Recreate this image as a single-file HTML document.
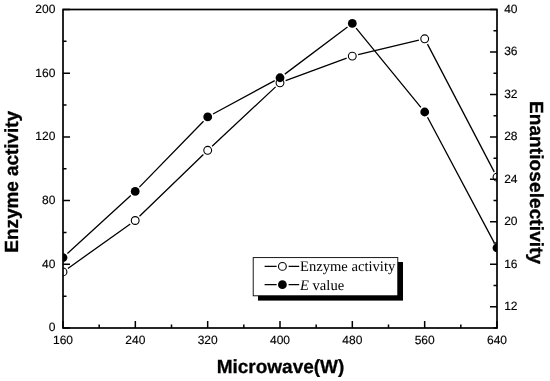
<!DOCTYPE html>
<html><head><meta charset="utf-8"><title>chart</title>
<style>html,body{margin:0;padding:0;background:#fff}svg{display:block;will-change:transform;text-rendering:geometricPrecision}text{font-family:"Liberation Sans",sans-serif;fill:#000}.t{font-size:12px;stroke:#000;stroke-width:.15px}.b{font-size:19px;font-weight:bold;stroke:#000;stroke-width:.3px}.s{font-family:"Liberation Serif",serif;font-size:14.6px}</style>
</head><body>
<svg width="550" height="381" viewBox="0 0 550 381">
<rect width="550" height="381" fill="#fff"/>
<defs><clipPath id="c"><rect x="63.0" y="9.5" width="434.0" height="318.5"/></clipPath></defs>
<g clip-path="url(#c)">
<path d="M67.89 268.42L130.31 223.98M139.51 216.33L203.39 154.47M212.09 146.21L275.61 86.89M285.63 80.72L346.67 58.18M358.14 54.71L418.86 40.19M427.48 44.12L494.22 171.88" stroke="#000" stroke-width="1.3" fill="none"/>
<circle cx="63" cy="271.9" r="3.9" fill="#fff" stroke="#000" stroke-width="1.1"/>
<circle cx="135.2" cy="220.5" r="3.9" fill="#fff" stroke="#000" stroke-width="1.1"/>
<circle cx="207.7" cy="150.3" r="3.9" fill="#fff" stroke="#000" stroke-width="1.1"/>
<circle cx="280" cy="82.8" r="3.9" fill="#fff" stroke="#000" stroke-width="1.1"/>
<circle cx="352.3" cy="56.1" r="3.9" fill="#fff" stroke="#000" stroke-width="1.1"/>
<circle cx="424.7" cy="38.8" r="3.9" fill="#fff" stroke="#000" stroke-width="1.1"/>
<circle cx="497" cy="177.2" r="3.9" fill="#fff" stroke="#000" stroke-width="1.1"/>
<path d="M67.42 253.55L130.78 195.45M139.38 187.10L203.52 121.20M212.98 114.04L274.72 80.61M284.80 74.14L347.50 27.01M356.10 28.05L420.90 107.35M427.52 117.30L494.18 242.60" stroke="#000" stroke-width="1.3" fill="none"/>
<circle cx="63" cy="257.6" r="4.4" fill="#000"/>
<circle cx="135.2" cy="191.4" r="4.4" fill="#000"/>
<circle cx="207.7" cy="116.9" r="4.4" fill="#000"/>
<circle cx="280" cy="77.75" r="4.4" fill="#000"/>
<circle cx="352.3" cy="23.4" r="4.4" fill="#000"/>
<circle cx="424.7" cy="112" r="4.4" fill="#000"/>
<circle cx="497" cy="247.9" r="4.4" fill="#000"/>
</g>
<path d="M63.0 328.00h7M63.0 296.15h3.5M63.0 264.30h7M63.0 232.45h3.5M63.0 200.60h7M63.0 168.75h3.5M63.0 136.90h7M63.0 105.05h3.5M63.0 73.20h7M63.0 41.35h3.5M63.0 9.50h7M497.0 328.00h-3.5M497.0 306.77h-7M497.0 285.53h-3.5M497.0 264.30h-7M497.0 243.07h-3.5M497.0 221.83h-7M497.0 200.60h-3.5M497.0 179.37h-7M497.0 158.13h-3.5M497.0 136.90h-7M497.0 115.67h-3.5M497.0 94.43h-7M497.0 73.20h-3.5M497.0 51.97h-7M497.0 30.73h-3.5M497.0 9.50h-7M63.00 328.0v-7M99.17 328.0v-3.5M135.33 328.0v-7M171.50 328.0v-3.5M207.67 328.0v-7M243.83 328.0v-3.5M280.00 328.0v-7M316.17 328.0v-3.5M352.33 328.0v-7M388.50 328.0v-3.5M424.67 328.0v-7M460.83 328.0v-3.5M497.00 328.0v-7" stroke="#000" stroke-width="1.5" fill="none"/>
<rect x="63.0" y="9.5" width="434.0" height="318.5" fill="none" stroke="#000" stroke-width="1.7"/>
<text class="t" x="55.4" y="331.30" text-anchor="end">0</text>
<text class="t" x="55.4" y="267.60" text-anchor="end">40</text>
<text class="t" x="55.4" y="203.90" text-anchor="end">80</text>
<text class="t" x="55.4" y="140.20" text-anchor="end">120</text>
<text class="t" x="55.4" y="76.50" text-anchor="end">160</text>
<text class="t" x="55.4" y="12.80" text-anchor="end">200</text>
<text class="t" x="504.2" y="309.97">12</text>
<text class="t" x="504.2" y="267.50">16</text>
<text class="t" x="504.2" y="225.03">20</text>
<text class="t" x="504.2" y="182.57">24</text>
<text class="t" x="504.2" y="140.10">28</text>
<text class="t" x="504.2" y="97.63">32</text>
<text class="t" x="504.2" y="55.17">36</text>
<text class="t" x="504.2" y="12.70">40</text>
<text class="t" x="63.00" y="344.3" text-anchor="middle">160</text>
<text class="t" x="135.33" y="344.3" text-anchor="middle">240</text>
<text class="t" x="207.67" y="344.3" text-anchor="middle">320</text>
<text class="t" x="280.00" y="344.3" text-anchor="middle">400</text>
<text class="t" x="352.33" y="344.3" text-anchor="middle">480</text>
<text class="t" x="424.67" y="344.3" text-anchor="middle">560</text>
<text class="t" x="497.00" y="344.3" text-anchor="middle">640</text>
<text class="b" transform="translate(17.6 181.8) rotate(-90)" text-anchor="middle" letter-spacing="-0.06">Enzyme activity</text>
<text class="b" transform="translate(530.4 182.6) rotate(90)" text-anchor="middle" letter-spacing="0.1">Enantioselectivity</text>
<text class="b" x="280.5" y="373.2" text-anchor="middle">Microwave(W)</text>
<rect x="258" y="262" width="145" height="38.6" fill="#000"/>
<rect x="253.2" y="257.6" width="144.6" height="38.2" fill="#fff" stroke="#000" stroke-width="0.9"/>
<path d="M264.6 266.4H276.6M288.6 266.4H299.2" stroke="#000" stroke-width="1.3"/>
<circle cx="282.4" cy="266.4" r="3.9" fill="#fff" stroke="#000" stroke-width="1.1"/>
<path d="M264.6 284.7H276.6M288.6 284.7H299.2" stroke="#000" stroke-width="1.3"/>
<circle cx="282.4" cy="284.7" r="4.4" fill="#000"/>
<text class="s" x="300" y="271.3">Enzyme activity</text>
<text class="s" x="300" y="290.1"><tspan font-style="italic">E</tspan> value</text>
</svg></body></html>
